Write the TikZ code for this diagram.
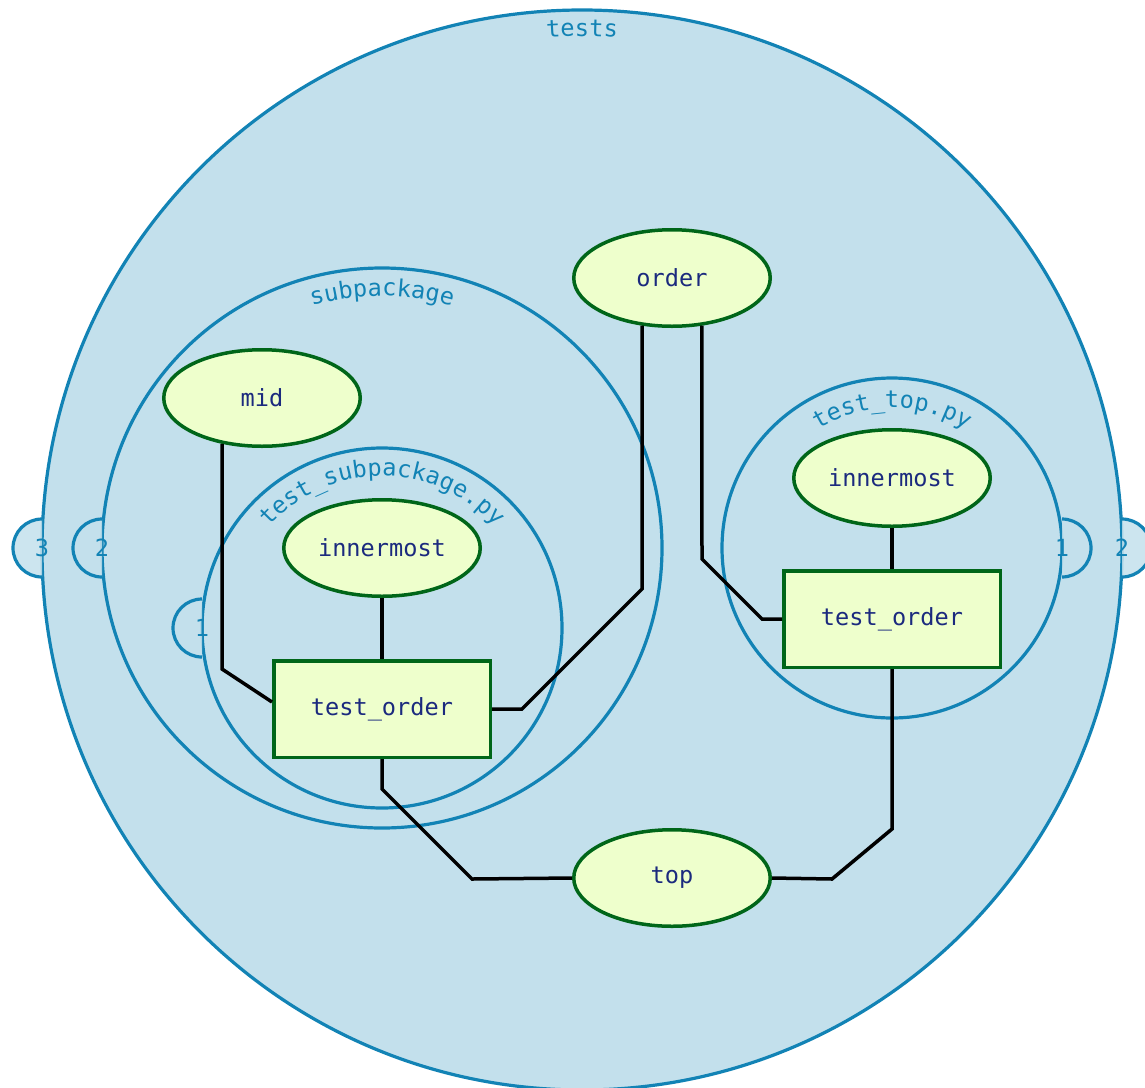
\documentclass[tikz,border=0pt]{standalone}
\usepackage{fontspec}
\setmonofont{DejaVu Sans Mono}
\usetikzlibrary{shapes.geometric,decorations.text}

\definecolor{pkgfill}{HTML}{C3E0EC}
\definecolor{pkgline}{HTML}{1283B5}
\definecolor{fixfill}{HTML}{EEFFCC}
\definecolor{fixline}{HTML}{006619}
\definecolor{fixtext}{HTML}{1B2A7E}

\begin{document}
\begin{tikzpicture}[x=0.5pt,y=-0.5pt,
	pkg/.style={draw=pkgline,fill=pkgfill,line width=1.6pt},
	portfill/.style={fill=pkgfill,fill opacity=0.85},
	portline/.style={draw=pkgline,line width=1.6pt},
	portlabel/.style={text=pkgline,font=\ttfamily\fontsize{11.8}{14}\selectfont,inner sep=0pt},
	pkglabel/.style={decorate,decoration={text along path,text align=center,
		text color=pkgline,text={|\ttfamily\fontsize{11.8}{14}\selectfont|#1}}},
	fixture/.style={ellipse,draw=fixline,fill=fixfill,line width=1.75pt,
		minimum width=98.25pt,minimum height=48.25pt,inner sep=0pt,
		text=fixtext,font=\ttfamily\fontsize{11.8}{14}\selectfont},
	testfn/.style={rectangle,draw=fixline,fill=fixfill,line width=1.75pt,
		minimum width=108.25pt,minimum height=48.25pt,inner sep=0pt,
		text=fixtext,font=\ttfamily\fontsize{11.8}{14}\selectfont},
	wire/.style={line width=1.75pt,black}]

	\useasboundingbox (0,0) rectangle (1145,1087);
	\clip (0,0) rectangle (1145,1087);

	% tests
	\draw[pkg] (582,550) circle (540);
	\path[portfill] (42,519) arc[start angle=270,end angle=90,radius=29] -- cycle;
	\draw[portline] (42,519) arc[start angle=270,end angle=90,radius=29];
	\node[portlabel] (port3) at (42,548) {3};
	\path[portfill] (1122,519) arc[start angle=-90,end angle=90,radius=29] -- cycle;
	\draw[portline] (1122,519) arc[start angle=-90,end angle=90,radius=29];
	\node[portlabel] (porttests) at (1122,548) {2};
	\path[pkglabel={tests}] (582,550) ++(240:514) arc[start angle=240,end angle=300,radius=514];

	% subpackage
	\draw[pkg] (382,548) circle (280);
	\path[portfill] (102,519) arc[start angle=270,end angle=90,radius=29] -- cycle;
	\draw[portline] (102,519) arc[start angle=270,end angle=90,radius=29];
	\node[portlabel] (port2) at (102,548) {2};
	\path[pkglabel={subpackage}] (382,548) ++(210:252) arc[start angle=210,end angle=330,radius=252];

	% test_subpackage.py
	\draw[pkg] (382,628) circle (180);
	\path[portfill] (202,599) arc[start angle=270,end angle=90,radius=29] -- cycle;
	\draw[portline] (202,599) arc[start angle=270,end angle=90,radius=29];
	\node[portlabel] (port1) at (202,628) {1};
	\path[pkglabel={test{\_}subpackage.py}] (382,628) ++(180:152) arc[start angle=180,end angle=360,radius=152];

	% test_top.py
	\draw[pkg] (892,548) circle (170);
	\path[portfill] (1062,519) arc[start angle=-90,end angle=90,radius=29] -- cycle;
	\draw[portline] (1062,519) arc[start angle=-90,end angle=90,radius=29];
	\node[portlabel] (porttop) at (1062,548) {1};
	\path[pkglabel={test{\_}top.py}] (892,548) ++(190:140) arc[start angle=190,end angle=350,radius=140];

	% fixtures and tests
	\node[fixture] (order) at (672,278) {order};
	\node[fixture] (mid) at (262,398) {mid};
	\node[fixture] (subinner) at (382,548) {innermost};
	\node[fixture] (topinner) at (892,478) {innermost};
	\node[fixture] (top) at (672,878) {top};
	\node[testfn] (suborder) at (382,709) {test\_order};
	\node[testfn] (toporder) at (892,619) {test\_order};

	\draw[wire] (mid.229) -- (222,669) -- ([yshift=3.5pt]suborder.west);
	\draw[wire] (subinner) -- (suborder);
	\draw[wire] (order.238) -- (642,589) -- (522,709) -- (suborder.east);
	\draw[wire] (order.302) -- (702,559) -- (762,619) -- (toporder.west);
	\draw[wire] (topinner) -- (toporder);
	\draw[wire] (suborder.south) -- (382,789) -- (472,879) -- (top.west);
	\draw[wire] (toporder.south) -- (892,829) -- (832,879) -- (top.east);
\end{tikzpicture}
\end{document}
